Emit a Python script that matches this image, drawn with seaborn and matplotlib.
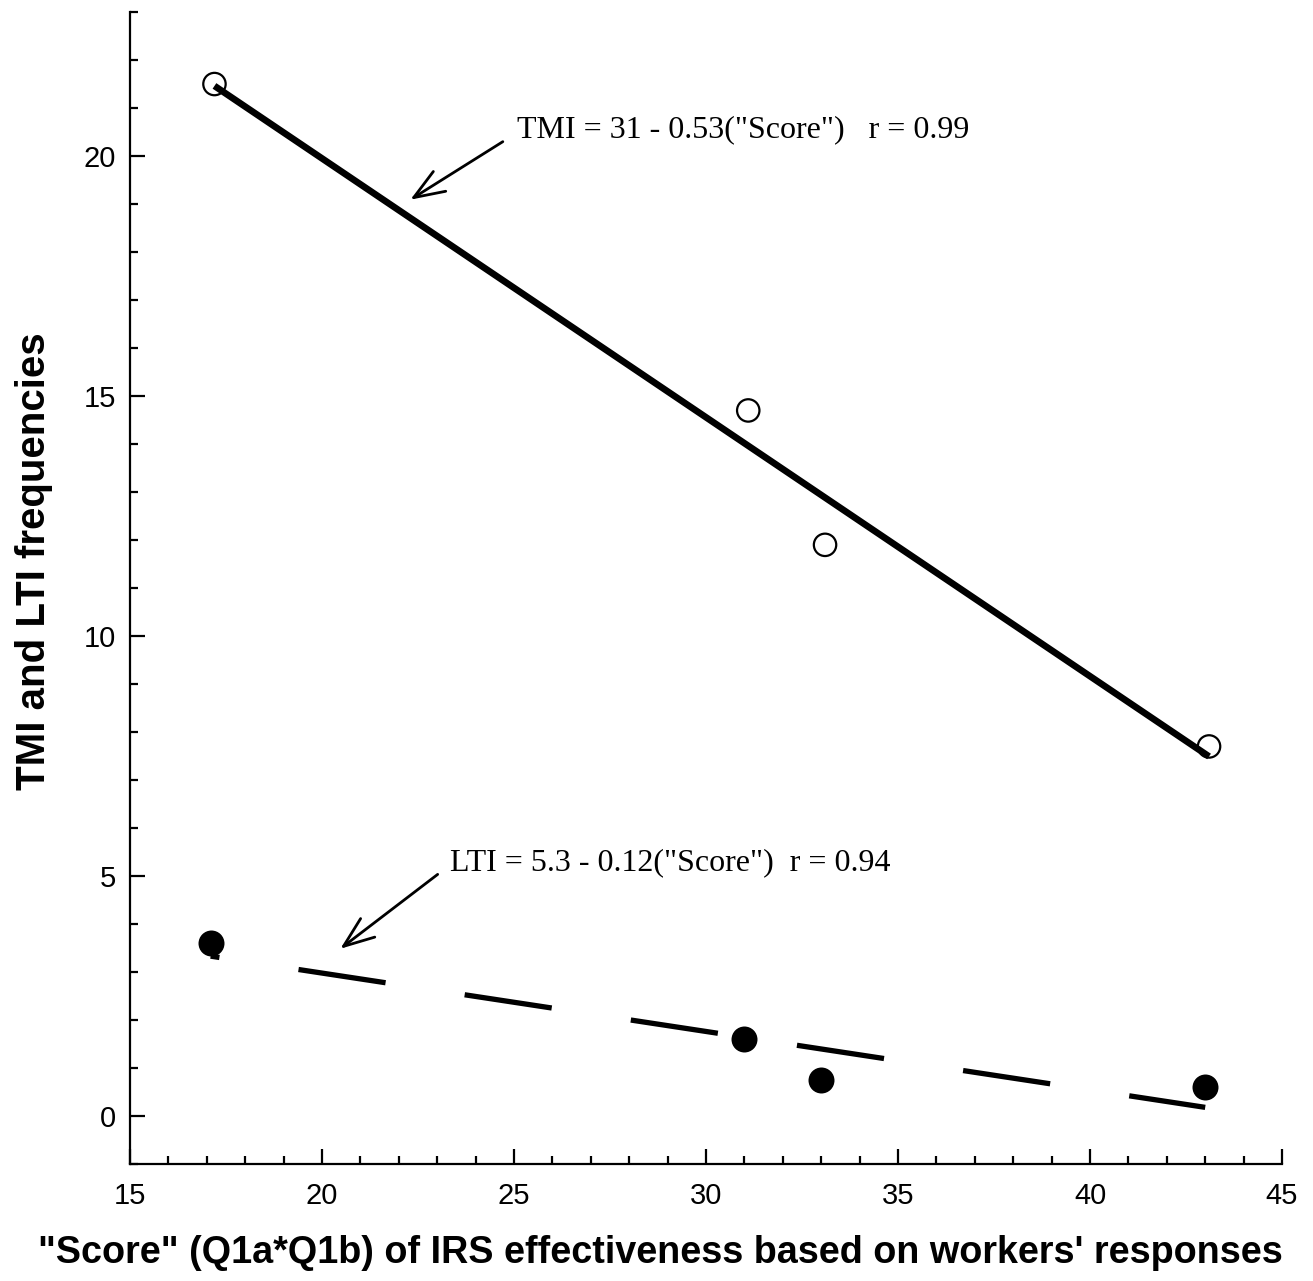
import numpy as np
import matplotlib
matplotlib.use('Agg')
import matplotlib.pyplot as plt
import seaborn as sns

# Dados
score_tmi = [17.2, 31.1, 33.1, 43.1]
tmi = [21.5, 14.7, 11.9, 7.7]
score_lti = [17.1, 31.0, 33.0, 43.0]
lti = [3.6, 1.6, 0.75, 0.6]

tmi_label = 'TMI = 31 - 0.53("Score")   r = 0.99'
lti_label = 'LTI = 5.3 - 0.12("Score")  r = 0.94'
x_label = '"Score" (Q1a*Q1b) of IRS effectiveness based on workers\' responses'
y_label = 'TMI and LTI frequencies'

sns.set_style('ticks')
plt.rcParams['font.family'] = ['Liberation Sans', 'DejaVu Sans']
plt.rcParams['lines.scale_dashes'] = False
plt.rcParams['text.color'] = 'black'
plt.rcParams['axes.labelcolor'] = 'black'

fig = plt.figure(figsize=(13.13, 12.81), dpi=100)
ax = fig.add_axes([0.099, 0.0913, 0.8774, 0.8993])

# TMI: circulos vazios + reta de regressao
sns.regplot(x=score_tmi, y=tmi, ci=None, ax=ax,
            scatter_kws={'s': 260, 'facecolors': 'none', 'color': 'black',
                         'linewidths': 1.6, 'alpha': 1, 'zorder': 3},
            line_kws={'color': 'black', 'linewidth': 4.8, 'zorder': 2,
                      'solid_capstyle': 'butt'})

# LTI: circulos cheios + reta tracejada
sns.regplot(x=score_lti, y=lti, ci=None, ax=ax,
            scatter_kws={'s': 350, 'color': 'black', 'linewidths': 0,
                         'alpha': 1, 'zorder': 3},
            line_kws={'color': 'black', 'linewidth': 3.8, 'zorder': 2,
                      'linestyle': (57, (63.4, 57.6)), 'dash_capstyle': 'butt'})

ax.set_xlim(15, 45)
ax.set_ylim(-1, 23)
ax.set_xticks([15, 20, 25, 30, 35, 40, 45])
ax.set_xticks(np.arange(15, 46, 1), minor=True)
ax.set_yticks([0, 5, 10, 15, 20])
ax.set_yticks(np.arange(-1, 24, 1), minor=True)

for s in ['top', 'right']:
    ax.spines[s].set_visible(False)
for s in ['left', 'bottom']:
    ax.spines[s].set_linewidth(1.6)
    ax.spines[s].set_color('black')

ax.tick_params(which='major', direction='in', length=11, width=1.6,
               labelsize=21, colors='black')
ax.tick_params(axis='x', which='major', pad=13)
ax.tick_params(axis='y', which='major', pad=10)
ax.tick_params(which='minor', direction='in', length=6, width=1.6, colors='black')

ax.set_xlabel(x_label, fontsize=27.2, fontweight='bold', labelpad=18, x=0.46)
ax.set_ylabel(y_label, fontsize=29, fontweight='bold', labelpad=22, y=0.523)

# Anotacoes
arrow = dict(arrowstyle='->, head_length=1.1, head_width=0.42',
             color='black', lw=2, mutation_scale=20)
ax.text(25.08, 20.54, tmi_label, fontsize=23, family='Liberation Serif',
        ha='left', va='center')
ax.annotate('', xy=(22.24, 19.06), xytext=(24.77, 20.33), arrowprops=arrow)
ax.text(23.33, 5.28, lti_label, fontsize=23, family='Liberation Serif',
        ha='left', va='center')
ax.annotate('', xy=(20.42, 3.45), xytext=(23.07, 5.07), arrowprops=arrow)

fig.savefig('out.png', dpi=100)
